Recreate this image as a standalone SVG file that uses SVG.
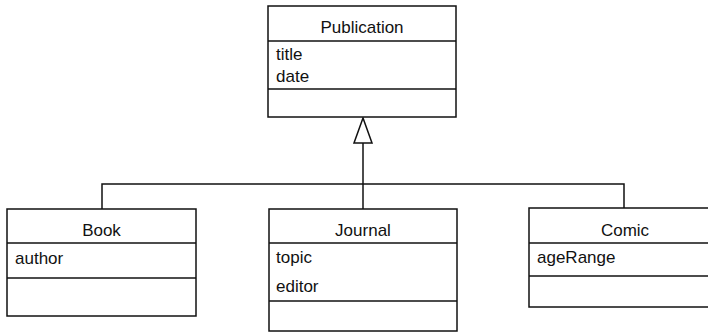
<svg xmlns="http://www.w3.org/2000/svg" width="708" height="332" viewBox="0 0 708 332">
<style>
.box{fill:#fff;stroke:#111;stroke-width:1.5}
.div{stroke:#111;stroke-width:1.5}
.t{font-family:"Liberation Sans",Arial,sans-serif;font-size:17px;fill:#111}
.n{text-anchor:middle}
.c{fill:none;stroke:#111;stroke-width:1.5}
</style>
<rect width="708" height="332" fill="#fff"/>
<g id="connectors">
<polyline class="c" points="102,209 102,184 624,184 624,209"/>
<line class="c" x1="363" y1="184" x2="363" y2="209"/>
<line class="c" x1="363" y1="184" x2="363" y2="143"/>
<polygon class="c" points="363,118 354,143 372,143" style="fill:#fff"/>
</g>
<g id="publication">
<rect class="box" x="268" y="6" width="188" height="111"/>
<line class="div" x1="268" y1="41" x2="456" y2="41"/>
<line class="div" x1="268" y1="89" x2="456" y2="89"/>
<text class="t n" x="362" y="33">Publication</text>
<text class="t" x="276" y="60">title</text>
<text class="t" x="276" y="82">date</text>
</g>
<g id="book">
<rect class="box" x="7" y="209" width="189" height="107"/>
<line class="div" x1="7" y1="243" x2="196" y2="243"/>
<line class="div" x1="7" y1="278" x2="196" y2="278"/>
<text class="t n" x="101.5" y="236">Book</text>
<text class="t" x="15" y="264">author</text>
</g>
<g id="journal">
<rect class="box" x="269" y="209" width="188" height="122"/>
<line class="div" x1="269" y1="243" x2="457" y2="243"/>
<line class="div" x1="269" y1="301" x2="457" y2="301"/>
<text class="t n" x="363" y="236">Journal</text>
<text class="t" x="276" y="263">topic</text>
<text class="t" x="276" y="292">editor</text>
</g>
<g id="comic">
<rect class="box" x="529" y="208" width="192" height="99"/>
<line class="div" x1="529" y1="243" x2="721" y2="243"/>
<line class="div" x1="529" y1="276" x2="721" y2="276"/>
<text class="t n" x="625" y="236">Comic</text>
<text class="t" x="537" y="263">ageRange</text>
</g>
</svg>
